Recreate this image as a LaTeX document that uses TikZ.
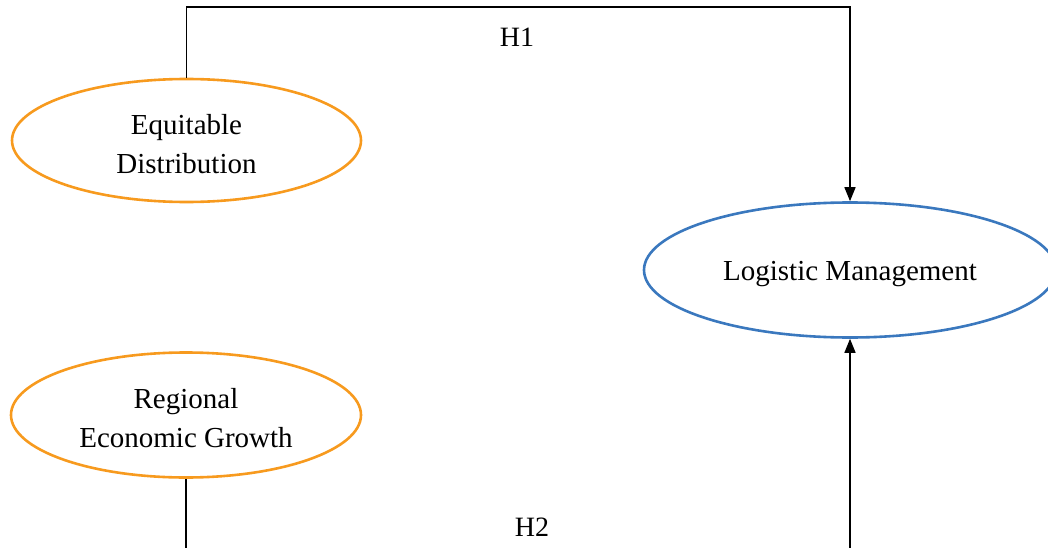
\documentclass[tikz,border=0pt]{standalone}
\usepackage{fontspec}
\setmainfont{Liberation Serif}
\usetikzlibrary{shapes.geometric,arrows.meta}
\definecolor{orng}{RGB}{247,154,30}
\definecolor{blu}{RGB}{58,120,190}
\tikzset{
  oval/.style={ellipse,draw,line width=2.6pt,inner sep=0pt},
  txt/.style={align=center,inner sep=0pt,font=\fontsize{29}{39}\selectfont},
  lbl/.style={font=\fontsize{28}{34}\selectfont,inner sep=0pt},
  conn/.style={line width=1.5pt,black},
  arr/.style={conn,-{Triangle[length=14pt,width=11pt]}}
}
\begin{document}
\begin{tikzpicture}[x=1pt,y=-1pt]
\useasboundingbox (0,0) rectangle (1048,548);
\clip (0,0) rectangle (1048,548);
\node[oval,draw=orng,minimum width=349pt,minimum height=123pt] (ED) at (186.5,140.5) {};
\node[txt] (EDt) at (186.5,144) {Equitable\\Distribution};
\node[oval,draw=orng,minimum width=350pt,minimum height=125pt] (RG) at (186,415) {};
\node[txt] (RGt) at (186,418) {Regional\\Economic Growth};
\node[oval,draw=blu,minimum width=412pt,minimum height=135pt] (LM) at (850,270) {};
\node[txt] (LMt) at (850,274) {Logistic Management};
\coordinate (top) at (0,7);
\coordinate (bot) at (0,549);
\draw[arr] (ED.north) -- (ED.north |- top) -- (LM.north |- top) -- (LM.north);
\draw[conn] (RG.south) -- (RG.south |- bot);
\draw[arr] (LM.south |- bot) -- (LM.south);
\node[lbl] (h1) at (517,37) {H1};
\node[lbl] (h2) at (532,527) {H2};
\end{tikzpicture}
\end{document}
